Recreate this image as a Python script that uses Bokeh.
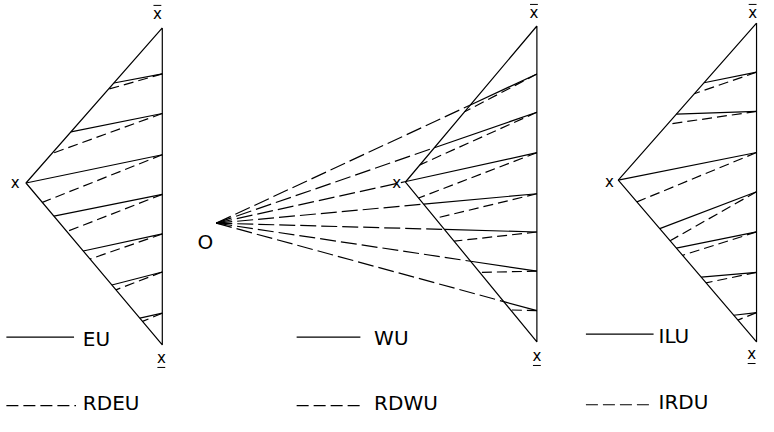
import numpy as np
from bokeh.plotting import figure
from bokeh.models import Range1d
from bokeh.core.properties import value
from bokeh.embed import file_html
from bokeh.resources import INLINE

# ---------------- data ----------------
# height at which each indifference line meets the right edge (0 = x_lower, 1 = x_upper)
eu_levels = [0.855, 0.73, 0.60, 0.475, 0.35, 0.23, 0.10]
wu_levels = [0.848, 0.727, 0.599, 0.469, 0.348, 0.224, 0.099]
ilu_levels = [0.846, 0.723, 0.594, 0.471, 0.345, 0.218, 0.092]
# where each line meets the left side: >0 fraction along apex->x_upper, <0 along apex->x_lower
eu_ends = [0.645, 0.33, 0.0, -0.205, -0.42, -0.63, -0.835]
rdeu_ends = [0.605, 0.19, -0.12, -0.30, -0.47, -0.66, -0.855]
rdwu_ends = [0.45, 0.11, -0.10, -0.227, -0.37, -0.565, -0.80]
ilu_ends = [0.62, 0.42, 0.0, -0.30, -0.42, -0.60, -0.835]
irdu_ends = [0.55, 0.355, -0.135, -0.375, -0.465, -0.635, -0.865]
# WU lines fan out from the point O (triangle coordinates)
wu_origin_x = -1.44
wu_origin_y = 0.376
solid_labels = ["EU", "WU", "ILU"]
dashed_labels = ["RDEU", "RDWU", "IRDU"]

# ---------------- layout ----------------
panels = [
    dict(ax=26, ay=188, rx=165, ty=30, by=353),
    dict(ax=413, ay=187, rx=547, ty=28, by=350),
    dict(ax=630, ay=185, rx=771, ty=25, by=350),
]
legend_pos = [
    dict(x0=6, x1=75, xd1=77, ys=345, yd=415, tx=84, tcs=347, tcd=412),
    dict(x0=302, x1=367, xd1=370, ys=345, yd=415, tx=381, tcs=346, tcd=412),
    dict(x0=597, x1=666, xd1=666, ys=342, yd=414, tx=671, tcs=344, tcd=411),
]
vertex_labels = [
    dict(apex=(15, 188), top=(160, 16), bot=(164, 366)),
    dict(apex=(404, 188), top=(544, 15), bot=(547, 364)),
    dict(apex=(621, 187), top=(767, 15), bot=(766, 362)),
]

FONT = value("DejaVu Sans")
LW = 1.2

p = figure(width=758, height=416, output_backend="svg", toolbar_location=None,
           x_range=Range1d(0, 773), y_range=Range1d(426, 2), min_border=0,
           x_axis_type=None, y_axis_type=None, title=None)
p.grid.visible = False
p.outline_line_color = None
p.background_fill_color = "white"
p.border_fill_color = "white"


def apex_frac(P):
    return (P["by"] - P["ay"]) / (P["by"] - P["ty"])


def to_px(P, X, Y):
    return (P["ax"] + X * (P["rx"] - P["ax"]), P["by"] - Y * (P["by"] - P["ty"]))


def left_point(P, u):
    a = apex_frac(P)
    if u >= 0:
        return to_px(P, u, a + u * (1 - a))
    return to_px(P, -u, a * (1 + u))


def triangle(P):
    xs = [P["rx"], P["ax"], P["rx"], P["rx"]]
    ys = [P["ty"], P["ay"], P["by"], P["ty"]]
    p.line(xs, ys, line_color="black", line_width=LW)


def fan(P, levels, ends, dash):
    xs, ys = [], []
    for h, u in zip(levels, ends):
        x0, y0 = to_px(P, 1.0, h)
        x1, y1 = left_point(P, u)
        xs.append([x0, x1])
        ys.append([y0, y1])
    if dash == "solid":
        p.multi_line(xs, ys, line_color="black", line_width=LW)
    else:
        p.multi_line(xs, ys, line_color="black", line_width=LW, line_dash=dash)


# panel 1: EU / RDEU
triangle(panels[0])
fan(panels[0], eu_levels, eu_ends, "solid")
fan(panels[0], eu_levels, rdeu_ends, "10 5")

# panel 2: WU rays from O, RDWU
P = panels[1]
triangle(P)
a = apex_frac(P)
ox, oy = wu_origin_x, wu_origin_y
in_xs, in_ys, out_xs, out_ys = [], [], [], []
for h in wu_levels:
    m = (h - oy) / (1 - ox)
    c = oy - m * ox - a
    Xu = c / ((1 - a) - m)
    Xl = c / (-a - m)
    if Xu >= -1e-9 and (Xu <= Xl or Xl < 0):
        X = Xu
    else:
        X = Xl
    Y = oy + m * (X - ox)
    rx, ry = to_px(P, 1.0, h)
    ix, iy = to_px(P, X, Y)
    Ox, Oy = to_px(P, ox, oy)
    in_xs.append([rx, ix]); in_ys.append([ry, iy])
    out_xs.append([Ox, ix]); out_ys.append([Oy, iy])
p.multi_line(in_xs, in_ys, line_color="black", line_width=LW)
p.multi_line(out_xs, out_ys, line_color="black", line_width=LW, line_dash="16 5")
fan(P, wu_levels, rdwu_ends, "10 5")

# panel 3: ILU / IRDU
triangle(panels[2])
fan(panels[2], ilu_levels, ilu_ends, "solid")
fan(panels[2], ilu_levels, irdu_ends, "10 5")

# legends
for L, s_lab, d_lab in zip(legend_pos, solid_labels, dashed_labels):
    p.line([L["x0"], L["x1"]], [L["ys"], L["ys"]], line_color="black", line_width=LW)
    p.line([L["x0"], L["xd1"]], [L["yd"], L["yd"]], line_color="black", line_width=LW,
           line_dash="12 5")
    p.text(x=[L["tx"], L["tx"]], y=[L["tcs"], L["tcd"]], text=[s_lab, d_lab],
           text_font=FONT, text_font_size="20px", text_color="black",
           text_baseline="middle", text_align="left")

# vertex labels
for V in vertex_labels:
    pts = [V["apex"], V["top"], V["bot"]]
    p.text(x=[q[0] for q in pts], y=[q[1] for q in pts], text=["x", "x", "x"],
           text_font=FONT, text_font_size="15px", text_color="black",
           text_baseline="middle", text_align="center")
    tx, ty = V["top"]
    bx, by = V["bot"]
    p.segment(x0=[tx - 4, bx - 4], y0=[ty - 9, by + 10], x1=[tx + 4, bx + 4],
              y1=[ty - 9, by + 10], line_color="black", line_width=1)

Ox, Oy = to_px(panels[1], wu_origin_x, wu_origin_y)
p.text(x=[Ox - 11], y=[Oy + 19], text=["O"], text_font=FONT, text_font_size="20px",
       text_color="black", text_baseline="middle", text_align="center")

open("out.html", "w").write(file_html(p, INLINE))
